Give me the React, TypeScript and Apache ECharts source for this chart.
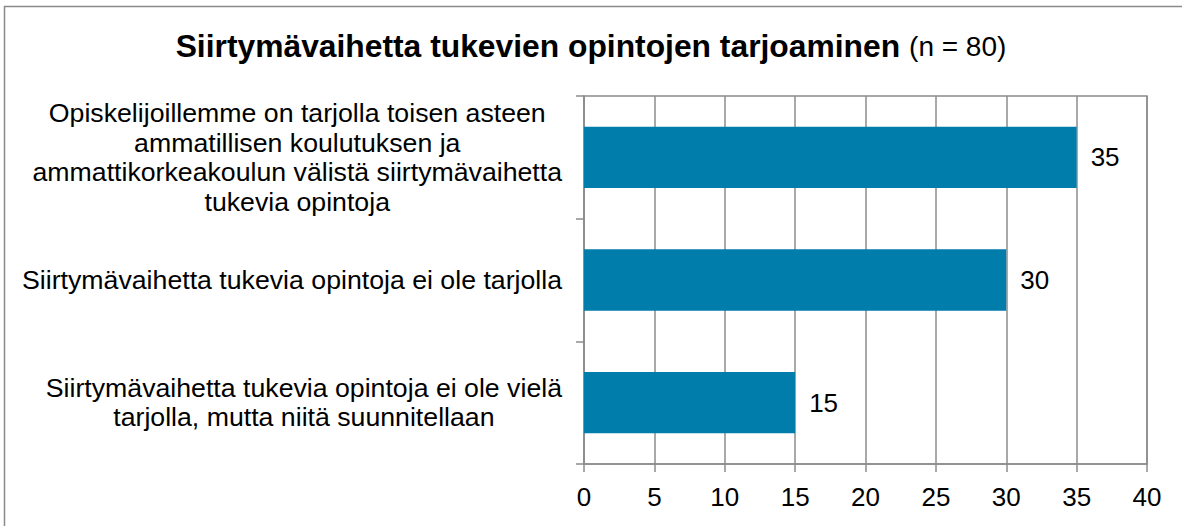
import React, { useEffect, useRef } from "react";
import * as echarts from "echarts";

const titleMain = "Siirtymävaihetta tukevien opintojen tarjoaminen";
const titleNote = "(n = 80)";
const categories = [
  "Opiskelijoillemme on tarjolla toisen asteen\nammatillisen koulutuksen ja\nammattikorkeakoulun välistä siirtymävaihetta\ntukevia opintoja",
  "Siirtymävaihetta tukevia opintoja ei ole tarjolla",
  "Siirtymävaihetta tukevia opintoja ei ole vielä\ntarjolla, mutta niitä suunnitellaan",
];
const values = [35, 30, 15];
const xMin = 0;
const xMax = 40;
const xStep = 5;

const FONT = "'Liberation Sans', Arial, sans-serif";
const GRAY = "#8c8c8c";

export default function App() {
  const ref = useRef<HTMLDivElement>(null);
  useEffect(() => {
    if (!ref.current) return;
    const chart = echarts.init(ref.current, null, { renderer: "svg" });
    chart.setOption({
      animation: false,
      backgroundColor: "#ffffff",
      textStyle: { fontFamily: FONT, color: "#000" },
      title: {
        text: `{b|${titleMain}}{n|${titleNote}}`,
        left: "center",
        top: 25,
        textStyle: {
          rich: {
            b: { fontFamily: FONT, fontWeight: "bold", fontSize: 31.8, color: "#000" },
            n: {
              fontFamily: FONT,
              fontWeight: "normal",
              fontSize: 28,
              color: "#000",
              padding: [0, 0, 0, 9],
            },
          },
        },
      },
      graphic: [
        {
          type: "rect",
          shape: { x: 4.5, y: 6.5, width: 1300, height: 700 },
          style: { fill: "none", stroke: "#8a8a8a", lineWidth: 1.5 },
          silent: true,
        },
      ],
      grid: {
        left: 584,
        right: 35,
        top: 96,
        bottom: 62,
        show: true,
        borderColor: GRAY,
        borderWidth: 1.5,
      },
      xAxis: {
        type: "value",
        min: xMin,
        max: xMax,
        interval: xStep,
        axisLine: { show: true, lineStyle: { color: GRAY, width: 1.5 } },
        axisTick: { show: true, length: 8, lineStyle: { color: GRAY, width: 1.5 } },
        splitLine: { show: true, lineStyle: { color: GRAY, width: 1.5 } },
        axisLabel: { fontFamily: FONT, fontSize: 26, color: "#000", margin: 20 },
      },
      yAxis: {
        type: "category",
        data: categories,
        inverse: true,
        axisLine: { show: true, lineStyle: { color: GRAY, width: 1.5 } },
        axisTick: { show: true, length: 8, lineStyle: { color: GRAY, width: 1.5 } },
        axisLabel: {
          margin: 22,
          formatter: (v: string) =>
            v
              .split("\n")
              .map((l) => `{c|${l}}`)
              .join("\n"),
          rich: {
            c: {
              fontFamily: FONT,
              fontSize: 26.7,
              color: "#000",
              align: "center",
              lineHeight: 29.5,
            },
          },
        },
      },
      series: [
        {
          type: "bar",
          data: values,
          barWidth: "50%",
          itemStyle: { color: "#007dab" },
          label: {
            show: true,
            position: "right",
            distance: 14,
            fontFamily: FONT,
            fontSize: 26,
            color: "#000",
          },
        },
      ],
    });
    return () => chart.dispose();
  }, []);
  return (
    <div
      ref={ref}
      style={{ position: "absolute", left: 0, top: 0, width: 1182, height: 526 }}
    />
  );
}
